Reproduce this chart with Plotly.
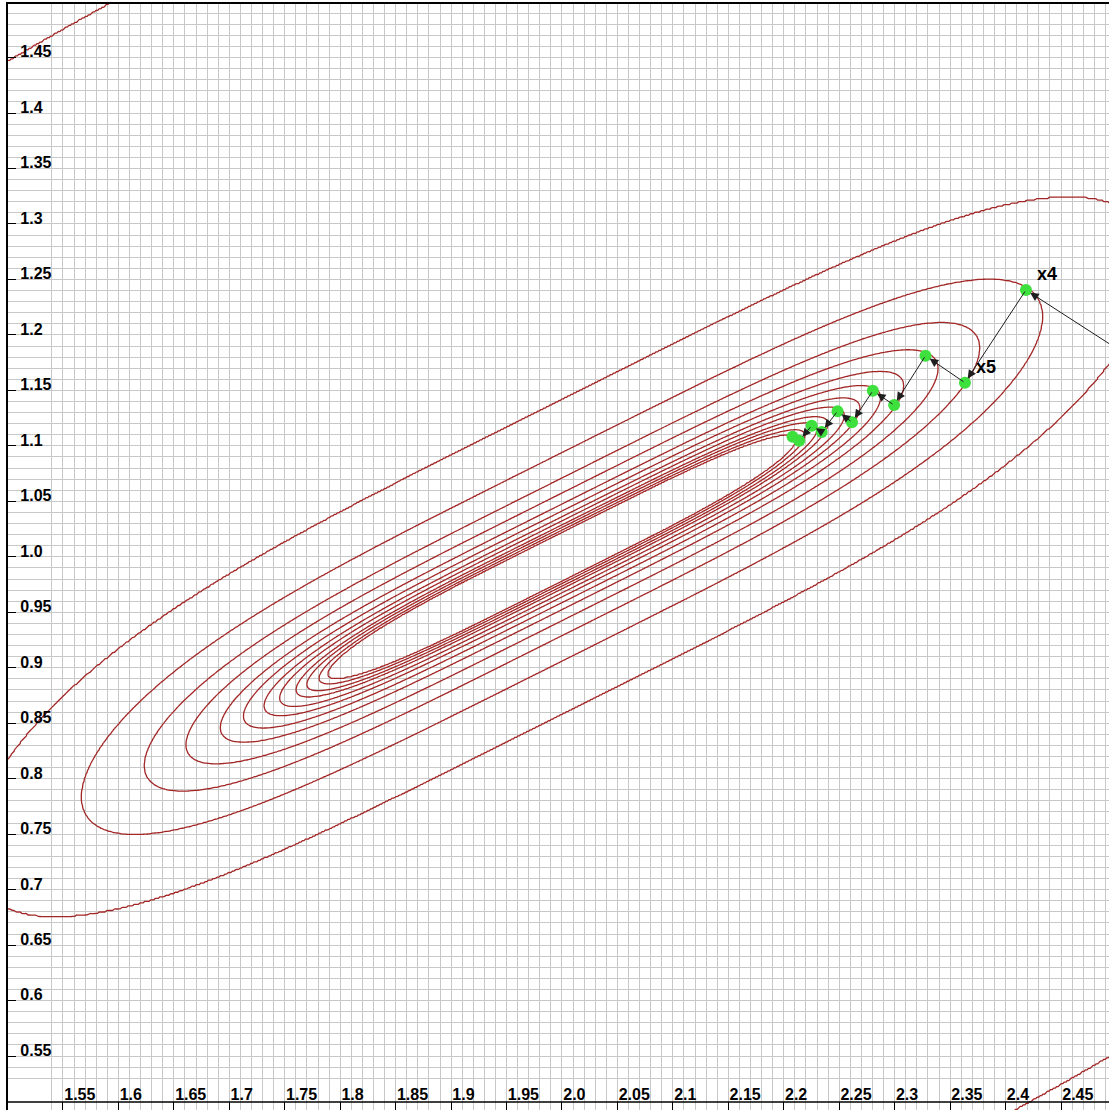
import numpy as np
import plotly.graph_objects as go

# ---- data ----
x_tick_vals = [1.55, 1.6, 1.65, 1.7, 1.75, 1.8, 1.85, 1.9, 1.95, 2.0,
               2.05, 2.1, 2.15, 2.2, 2.25, 2.3, 2.35, 2.4, 2.45]
x_tick_text = ["1.55", "1.6", "1.65", "1.7", "1.75", "1.8", "1.85", "1.9", "1.95", "2.0",
               "2.05", "2.1", "2.15", "2.2", "2.25", "2.3", "2.35", "2.4", "2.45"]
y_tick_vals = [0.55, 0.6, 0.65, 0.7, 0.75, 0.8, 0.85, 0.9, 0.95, 1.0,
               1.05, 1.1, 1.15, 1.2, 1.25, 1.3, 1.35, 1.4, 1.45]
y_tick_text = ["0.55", "0.6", "0.65", "0.7", "0.75", "0.8", "0.85", "0.9", "0.95", "1.0",
               "1.05", "1.1", "1.15", "1.2", "1.25", "1.3", "1.35", "1.4", "1.45"]

# steepest-descent iterates x3 ... x14 (x3 just beyond the right edge)
iter_x = [2.499, 2.4184, 2.3634, 2.3278, 2.2995, 2.2803, 2.2615, 2.2485, 2.2342, 2.2252, 2.2139, 2.2079]
iter_y = [1.1885, 1.2405, 1.1569, 1.1812, 1.1368, 1.1496, 1.1213, 1.1313, 1.1125, 1.1182, 1.1046, 1.1083]
iter_labels = ["", "x4", "x5", "", "", "", "", "", "", "", "", ""]

# contour levels of f(x1,x2) = (x1-2)^4 + (x1-2*x2)^2
contour_levels = [0.0020, 0.0023, 0.0028, 0.0033, 0.0042, 0.0052, 0.0068,
                  0.0090, 0.0132, 0.0201, 0.0352, 0.080, 2.0]

# ---- function grid ----
gx = np.linspace(1.48, 2.52, 761)
gy = np.linspace(0.48, 1.52, 761)
X, Y = np.meshgrid(gx, gy)
F = (X - 2.0) ** 4 + (X - 2.0 * Y) ** 2
lev = np.array(contour_levels)
knots = np.concatenate([[0.0], lev, [1.0e3]])
Z = np.interp(F, knots, np.arange(len(knots), dtype=float)).astype(np.float32)

line_red = "#a32626"
grid_gray = "#c8c8c8"
label_font = dict(family="Liberation Sans, Arial, sans-serif", size=16, color="black",
                  weight="bold")

fig = go.Figure()
fig.add_trace(go.Contour(
    x=gx, y=gy, z=Z,
    contours=dict(start=1, end=len(lev), size=1, coloring="lines", showlabels=False),
    colorscale=[[0, line_red], [1, line_red]],
    line=dict(width=1.3, smoothing=1),
    showscale=False, hoverinfo="skip",
))

fig.add_trace(go.Scatter(
    x=iter_x, y=iter_y, mode="markers",
    marker=dict(size=12, color="#3ee03e", line=dict(width=0)),
    hoverinfo="skip", showlegend=False,
))

annotations = []
for k in range(len(iter_x) - 1):
    annotations.append(dict(
        x=iter_x[k + 1], y=iter_y[k + 1], ax=iter_x[k], ay=iter_y[k],
        xref="x", yref="y", axref="x", ayref="y",
        showarrow=True, arrowhead=2, arrowsize=1.7, arrowwidth=1,
        arrowcolor="#1e1e1e", standoff=5, text="",
    ))
for xv, yv, lab in zip(iter_x, iter_y, iter_labels):
    if lab:
        annotations.append(dict(
            x=xv, y=yv, xref="x", yref="y", text=lab, showarrow=False,
            xanchor="left", yanchor="bottom", xshift=9, yshift=4,
            font=dict(family="Liberation Sans, Arial, sans-serif", size=18, color="black"),
        ))

px_per_unit_x = 1108.9
px_per_unit_y = 1109.4
x_left_edge = 1.4932
y_top_edge = 1.5019
ml, mt, mb = 8, 4, 0
W, H = 1109, 1110
plot_h = H - mt - mb

# bottom frame line sits 8 px above the lower edge; the tick marks hang below it
shapes = [dict(type="line", xref="paper", yref="paper", x0=0, x1=1,
               y0=8 / plot_h, y1=8 / plot_h, line=dict(color="black", width=1.5))]

fig.update_layout(
    width=W, height=H,
    margin=dict(l=ml, r=0, t=mt, b=mb, pad=0),
    paper_bgcolor="white", plot_bgcolor="white",
    showlegend=False,
    annotations=annotations,
    shapes=shapes,
    font=label_font,
)
fig.update_xaxes(
    range=[x_left_edge + ml / px_per_unit_x, x_left_edge + W / px_per_unit_x],
    tickmode="array", tickvals=x_tick_vals, ticktext=x_tick_text,
    ticks="inside", ticklen=8, tickcolor="black", tickwidth=1,
    ticklabelposition="inside right", ticklabelstandoff=4, tickfont=label_font,
    showline=True, linecolor="black", linewidth=1.5, mirror=True,
    showgrid=True, gridcolor=grid_gray, gridwidth=1,
    minor=dict(tick0=0, dtick=0.01, showgrid=True, gridcolor=grid_gray, gridwidth=1),
    zeroline=False,
)
fig.update_yaxes(
    range=[y_top_edge - (H - mb) / px_per_unit_y, y_top_edge - mt / px_per_unit_y],
    tickmode="array", tickvals=y_tick_vals, ticktext=y_tick_text,
    ticks="inside", ticklen=8, tickcolor="black", tickwidth=1,
    ticklabelposition="inside top", ticklabelstandoff=12, ticklabelshift=6,
    tickfont=label_font,
    showline=True, linecolor="black", linewidth=1.5, mirror=False,
    showgrid=True, gridcolor=grid_gray, gridwidth=1,
    minor=dict(tick0=0, dtick=0.01, showgrid=True, gridcolor=grid_gray, gridwidth=1),
    zeroline=False,
)

fig.write_html("out.html")
